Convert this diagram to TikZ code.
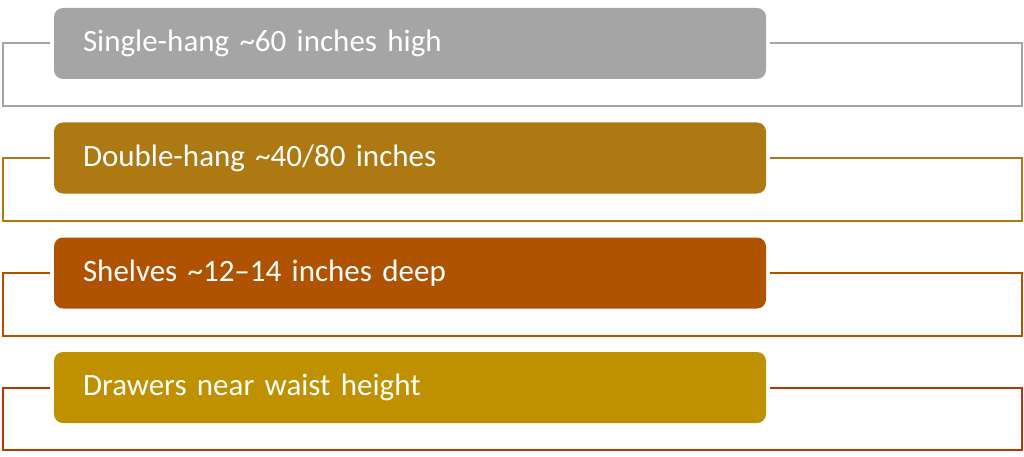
\documentclass[tikz,border=0pt]{standalone}
\usepackage{fontspec}
\setmainfont{Carlito}
\usetikzlibrary{calc}
\definecolor{cgray}{HTML}{A5A5A5}
\definecolor{cbrown}{HTML}{AE7812}
\definecolor{corange}{HTML}{B05300}
\definecolor{cgold}{HTML}{BF9000}
\definecolor{cred}{HTML}{B5370A}
\begin{document}
\begin{tikzpicture}[x=1pt,y=1pt,
  bar/.style={rectangle, rounded corners=9pt, fill=#1, draw=none, minimum width=712pt, minimum height=71pt,
    inner xsep=29pt, text width=654pt, align=left, text=white, font=\fontsize{31}{36}\selectfont},
  frame/.style={draw=#1, line width=2pt}]
\useasboundingbox (0,0) rectangle (1024,-457);
\coordinate (L) at (2.5,0);
\coordinate (R) at (1021.5,0);
\node[bar=cgray]   (b1) at (410,-43.5) {Single-hang \textasciitilde 60 inches high};
\node[bar=cbrown]  (b2) at (410,-158)  {Double-hang \textasciitilde 40/80 inches};
\node[bar=corange] (b3) at (410,-273)  {Shelves \textasciitilde 12–14 inches deep};
\node[bar=cgold]   (b4) at (410,-387.5){Drawers near waist height};
\foreach \i/\lc in {1/cgray,2/cbrown,3/corange,4/cred}{
  \draw[frame=\lc] ([xshift=-3.5pt]b\i.west) -- (b\i.west -| L) -- ++(0,-62.5) -- ($(b\i.west -| R)+(0,-62.5)$) -- (b\i.east -| R) -- ([xshift=3.5pt]b\i.east);
}
\end{tikzpicture}
\end{document}
